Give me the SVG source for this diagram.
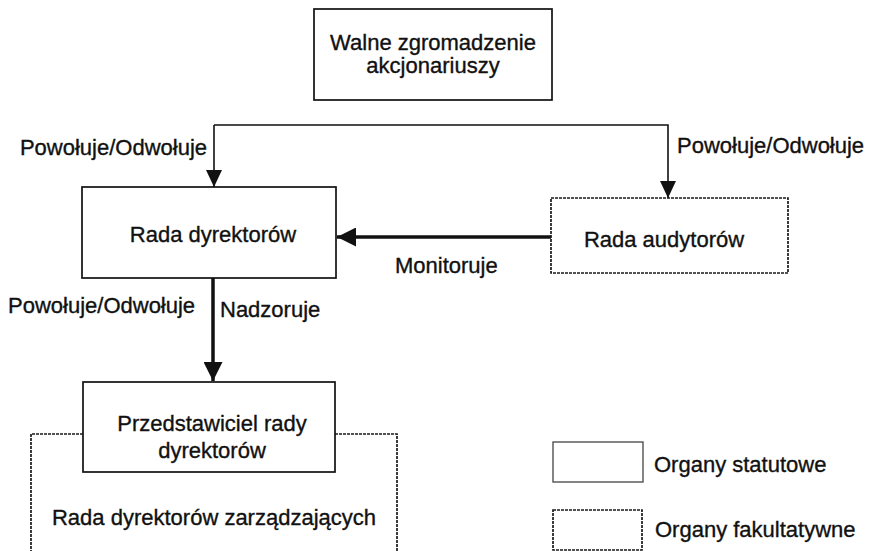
<svg xmlns="http://www.w3.org/2000/svg" width="869" height="551" viewBox="0 0 869 551">
  <style>
    text { font-family: "Liberation Sans", Arial, sans-serif; font-size: 22px; fill: #111; stroke: #111; stroke-width: 0.35; }
    .mid { text-anchor: middle; }
    .end { text-anchor: end; }
    .box { fill: #fff; stroke: #111; stroke-width: 1.7; }
    .opt { fill: none; stroke: #1a1a1a; stroke-width: 1.7; stroke-dasharray: 3 1; }
    .thin { fill: none; stroke: #111; stroke-width: 1.6; }
    .thick { fill: none; stroke: #111; stroke-width: 3.5; }
  </style>
  <defs>
    <marker id="head" markerUnits="userSpaceOnUse" markerWidth="18" markerHeight="16" refX="17" refY="8" orient="auto">
      <path d="M0,0 L17,8 L0,16 Z" fill="#111"/>
    </marker>
    <marker id="headBold" markerUnits="userSpaceOnUse" markerWidth="20" markerHeight="19" refX="19" refY="9.5" orient="auto">
      <path d="M0,0 L19,9.5 L0,19 Z" fill="#111"/>
    </marker>
  </defs>

  <!-- connectors -->
  <g id="connectors">
    <path class="thin" d="M214,125 V187" marker-end="url(#head)"/>
    <path class="thin" d="M214,125 H668 V198" marker-end="url(#head)"/>
    <path class="thick" d="M551,237 H337" marker-end="url(#headBold)"/>
    <path class="thick" d="M213,278 V381" marker-end="url(#headBold)"/>
    <text class="end" x="207" y="155">Powołuje/Odwołuje</text>
    <text x="677" y="153">Powołuje/Odwołuje</text>
    <text x="395" y="273">Monitoruje</text>
    <text x="8" y="313">Powołuje/Odwołuje</text>
    <text x="220" y="317">Nadzoruje</text>
  </g>

  <g id="walne-zgromadzenie">
    <rect class="box" x="314" y="9" width="238" height="91"/>
    <text class="mid" x="433" y="50">Walne zgromadzenie</text>
    <text class="mid" x="433" y="73">akcjonariuszy</text>
  </g>

  <g id="rada-dyrektorow">
    <rect class="box" x="82" y="187" width="254" height="91"/>
    <text class="mid" x="213" y="242">Rada dyrektorów</text>
  </g>

  <g id="rada-audytorow">
    <rect class="opt" x="551" y="198" width="237" height="75"/>
    <text class="mid" x="664" y="247">Rada audytorów</text>
  </g>

  <g id="rada-zarzadzajacych">
    <path class="opt" d="M83,434 H31 V560 M335,434 H397 V560"/>
    <text class="mid" x="214" y="525">Rada dyrektorów zarządzających</text>
  </g>

  <g id="przedstawiciel">
    <rect class="box" x="83" y="382" width="252" height="90"/>
    <text class="mid" x="212" y="431">Przedstawiciel rady</text>
    <text class="mid" x="212" y="458">dyrektorów</text>
  </g>

  <g id="legend">
    <rect class="box" x="553" y="442" width="90" height="40" style="stroke:#444;stroke-width:1.3"/>
    <text x="654" y="472">Organy statutowe</text>
    <rect class="opt" x="553" y="510" width="89" height="40"/>
    <text x="655" y="537">Organy fakultatywne</text>
  </g>
</svg>
